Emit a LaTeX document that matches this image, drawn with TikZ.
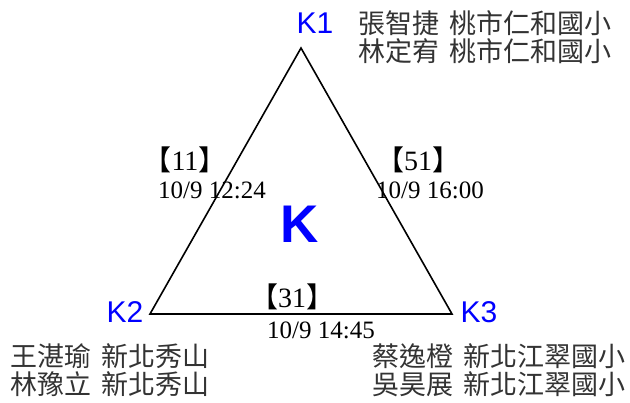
\documentclass[tikz,border=0pt]{standalone}
\usepackage{fontspec}
\setmainfont{Liberation Serif}
\newfontfamily\cjk{Noto Sans CJK TC}
\newfontfamily\arial{Liberation Sans}
\begin{document}
\begin{tikzpicture}[x=1pt,y=-1pt,
  vlabel/.style={font=\arial\fontsize{30}{34}\selectfont, text=blue, inner sep=0pt},
  names/.style={font=\cjk\fontsize{27}{30}\selectfont, inner sep=0pt, text=black!80},
  code/.style={font=\cjk\fontsize{28}{30}\selectfont, inner sep=0pt},
  tstamp/.style={font=\fontsize{25}{28}\selectfont, inner sep=0pt},
  edge/.style={draw=black, line width=1.6pt}]
\useasboundingbox (0,0) rectangle (630,403);
\coordinate (A) at (301,48);
\coordinate (B) at (150,314);
\coordinate (C) at (452,314);
\draw[edge, line join=miter] (A) -- (B) -- (C) -- cycle;
\node[vlabel] (k1) at (315,23) {K1};
\node[vlabel] (k2) at (125,312) {K2};
\node[vlabel] (k3) at (479,312) {K3};
\node[font=\arial\bfseries\fontsize{53}{56}\selectfont, text=blue, inner sep=0pt] (k) at (300,224) {K};
\node[names, anchor=west] (n1) at (358,23) {張智捷\hspace{0.4em}桃市仁和國小};
\node[names, anchor=west] (n2) at (358,51) {林定宥\hspace{0.4em}桃市仁和國小};
\node[names, anchor=west] (n3) at (10,356) {王湛瑜\hspace{0.4em}新北秀山};
\node[names, anchor=west] (n4) at (10,384) {林豫立\hspace{0.4em}新北秀山};
\node[names, anchor=east] (n5) at (626,356) {蔡逸橙\hspace{0.4em}新北江翠國小};
\node[names, anchor=east] (n6) at (626,384) {吳昊展\hspace{0.4em}新北江翠國小};
\node[code] (c11) at (185,160) {【{\rmfamily 11}】};
\node[code] (c51) at (418,160) {【{\rmfamily 51}】};
\node[code] (c31) at (292,297) {【{\rmfamily 31}】};
\node[tstamp, anchor=west] (t11) at (158,190) {10/9 12:24};
\node[tstamp, anchor=west] (t51) at (376,190) {10/9 16:00};
\node[tstamp, anchor=west] (t31) at (267,330) {10/9 14:45};
\end{tikzpicture}
\end{document}
